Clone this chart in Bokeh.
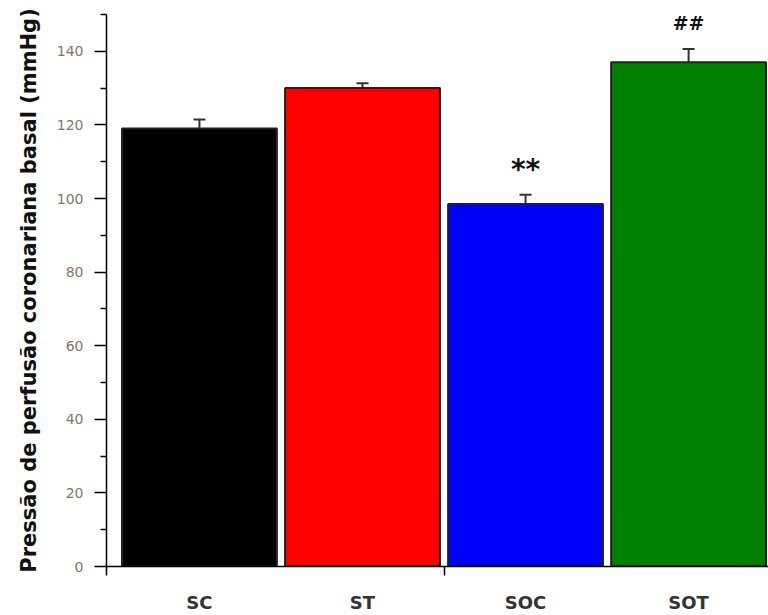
from bokeh.plotting import figure
from bokeh.models import ColumnDataSource, FixedTicker, Range1d, Whisker, TeeHead
from bokeh.core.properties import value
from bokeh.embed import file_html
from bokeh.resources import INLINE

groups = ["SC", "ST", "SOC", "SOT"]
means = [119.0, 130.0, 98.5, 137.0]
errors = [2.5, 1.3, 2.5, 3.6]
colors = ["#000000", "#ff0000", "#0000ff", "#007f00"]
marks = ["", "", "**", "##"]
mark_sizes = ["28px", "28px", "28px", "19px"]
y_ticks = [0, 20, 40, 60, 80, 100, 120, 140]
y_minor = [10, 30, 50, 70, 90, 110, 130, 150]

xs = [i + 1 for i in range(len(groups))]
upper = [m + e for m, e in zip(means, errors)]
src = ColumnDataSource(dict(x=xs, top=means, upper=upper, color=colors,
                            mark=marks, mark_y=[u + 7 for u in upper],
                            msize=mark_sizes))

p = figure(width=768, height=615, output_backend="svg", toolbar_location=None,
           x_range=Range1d(0.43, 4.49), y_range=Range1d(0, 150),
           min_border_left=106, min_border_top=14, min_border_right=0,
           min_border_bottom=48)
p.outline_line_color = None
p.grid.grid_line_color = None
p.background_fill_color = "white"

p.vbar(x="x", top="top", width=0.95, bottom=0, source=src,
       fill_color="color", line_color="#222222", line_width=2)

w = Whisker(base="x", lower="top", upper="upper", source=src,
            line_color="#333333", line_width=2,
            upper_head=TeeHead(size=12, line_color="#333333", line_width=2),
            lower_head=None)
p.add_layout(w)

p.text(x="x", y="mark_y", text="mark", source=src, text_align="center",
       text_baseline="middle", text_font=value("DejaVu Sans"),
       text_font_size="msize", text_font_style="bold", text_color="#111111")

# y axis
p.yaxis.ticker = FixedTicker(ticks=y_ticks, minor_ticks=y_minor)
p.yaxis.axis_line_color = "black"
p.yaxis.axis_line_width = 1.5
p.yaxis.major_tick_out = 12
p.yaxis.major_tick_in = 0
p.yaxis.minor_tick_out = 6
p.yaxis.minor_tick_in = 0
p.yaxis.major_tick_line_width = 1.5
p.yaxis.minor_tick_line_width = 1.5
p.yaxis.major_label_text_font = "DejaVu Sans"
p.yaxis.major_label_text_font_size = "14px"
p.yaxis.major_label_text_color = "#857565"
p.yaxis.major_label_standoff = 11
p.yaxis.axis_label = "Pressão de perfusão coronariana basal (mmHg)"
p.yaxis.axis_label_text_font = "DejaVu Sans"
p.yaxis.axis_label_text_font_size = "21px"
p.yaxis.axis_label_text_font_style = "bold"
p.yaxis.axis_label_text_color = "#111111"
p.yaxis.axis_label_standoff = 13

# x axis
p.xaxis.ticker = FixedTicker(ticks=xs, minor_ticks=[0.431, 2.5])
p.xaxis.major_label_overrides = {x: g for x, g in zip(xs, groups)}
p.xaxis.axis_line_color = "black"
p.xaxis.axis_line_width = 1.5
p.xaxis.major_tick_out = 0
p.xaxis.major_tick_in = 0
p.xaxis.minor_tick_out = 9
p.xaxis.minor_tick_in = 0
p.xaxis.minor_tick_line_width = 1.5
p.xaxis.major_label_text_font = "DejaVu Sans"
p.xaxis.major_label_text_font_size = "18px"
p.xaxis.major_label_text_font_style = "bold"
p.xaxis.major_label_text_color = "#333333"
p.xaxis.major_label_standoff = 16

open("out.html", "w").write(file_html(p, INLINE))
